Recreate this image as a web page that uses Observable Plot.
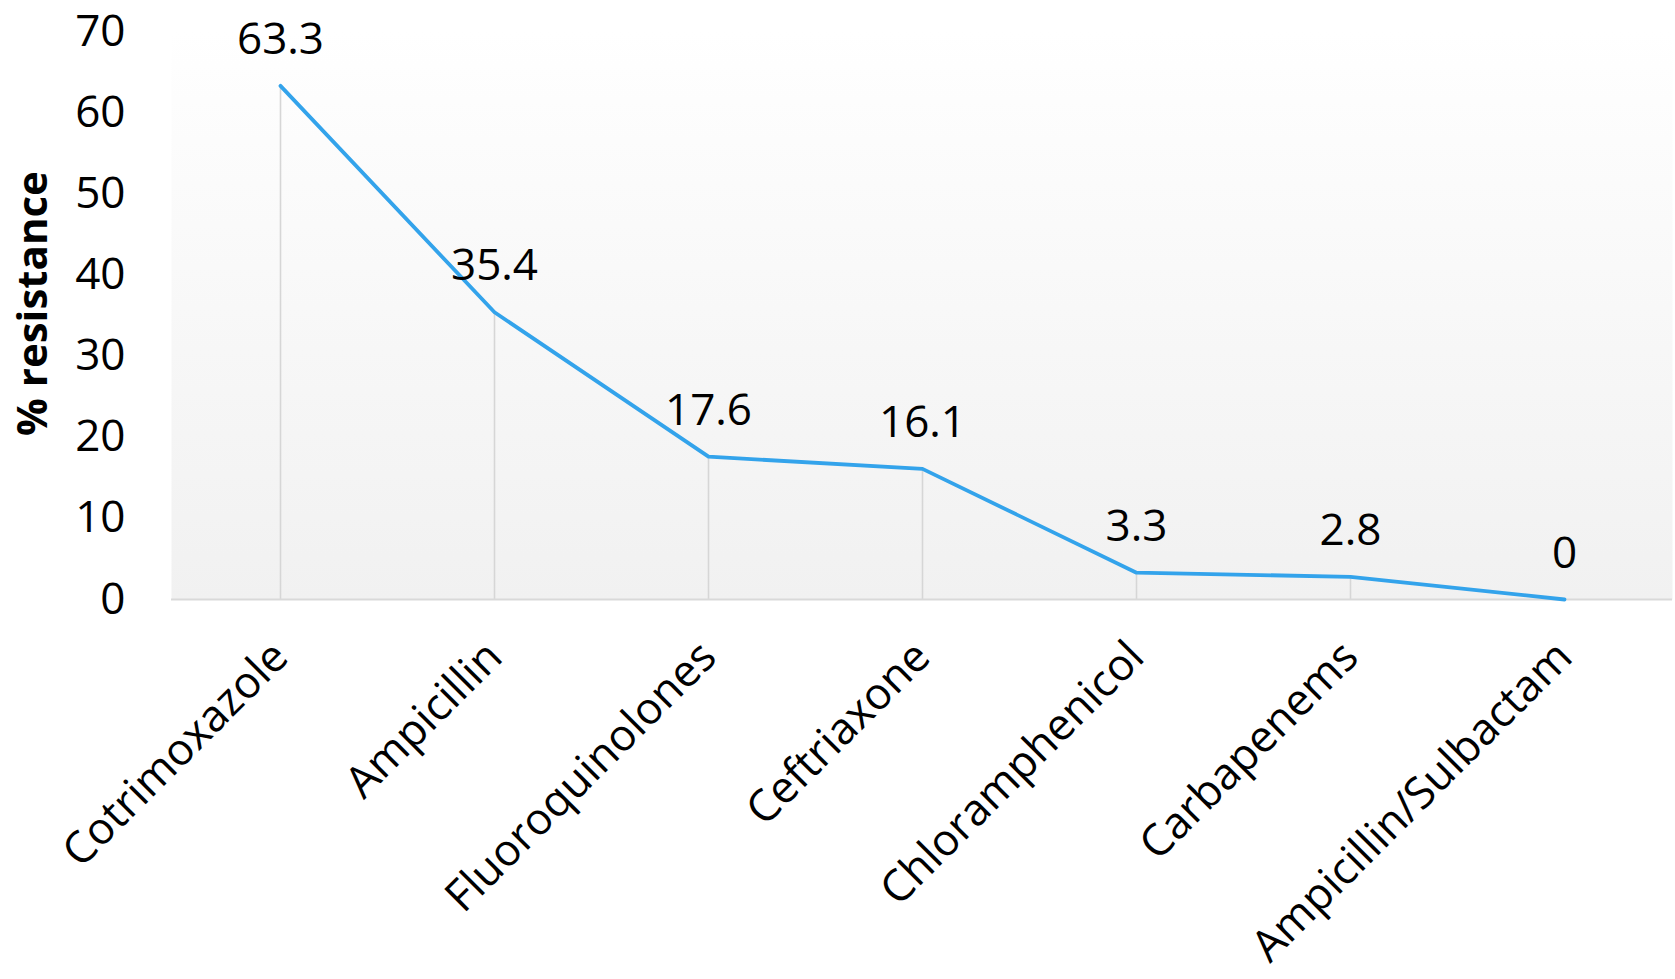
<!DOCTYPE html>
<html>
<head>
<meta charset="utf-8">
<script src="https://cdn.jsdelivr.net/npm/d3@7"></script>
<script src="https://cdn.jsdelivr.net/npm/@observablehq/plot@0.6"></script>
<style>
  html, body { margin: 0; padding: 0; background: #ffffff; }
  #chart svg { display: block; }
</style>
</head>
<body>
<div id="chart"></div>
<script>
const antibiotics = ["Cotrimoxazole", "Ampicillin", "Fluoroquinolones", "Ceftriaxone", "Chloramphenicol", "Carbapenems", "Ampicillin/Sulbactam"];
const resistance = [63.3, 35.4, 17.6, 16.1, 3.3, 2.8, 0];
const valueLabels = ["63.3", "35.4", "17.6", "16.1", "3.3", "2.8", "0"];
const yTicks = [0, 10, 20, 30, 40, 50, 60, 70];
const yTitle = "% resistance";

const data = antibiotics.map((name, i) => ({name, value: resistance[i], label: valueLabels[i]}));

const font = "'Open Sans', 'Lato', sans-serif";

const chart = Plot.plot({
  width: 1675,
  height: 979,
  marginLeft: 171,
  marginRight: 3,
  marginTop: 31,
  marginBottom: 380,
  style: {fontFamily: font, fontSize: "44px", color: "#000", background: "transparent", overflow: "visible"},
  x: {type: "point", domain: antibiotics, padding: 0.5},
  y: {domain: [0, 70]},
  marks: [
    Plot.frame({fill: "#f2f2f2", stroke: "none", className: "bgframe"}),
    Plot.ruleX(data, {x: "name", y1: 0, y2: "value", stroke: "#d6d6d6", strokeWidth: 1.6}),
    Plot.ruleY([0], {stroke: "#d9d9d9", strokeWidth: 2}),
    Plot.line(data, {x: "name", y: "value", stroke: "#33a3eb", strokeWidth: 3.8, strokeLinecap: "round", strokeLinejoin: "round"}),
    Plot.text(data, {x: "name", y: "value", text: "label", dy: -46, fontSize: 44, fill: "#000"}),
    Plot.axisY({ticks: yTicks, tickSize: 0, tickPadding: 46, label: null, fontSize: 44}),
    Plot.axisX({tickRotate: -45, tickSize: 0, tickPadding: 50, label: null, fontSize: 44}),
    Plot.text([yTitle], {frameAnchor: "left", text: d => d, rotate: -90, textAnchor: "middle", dx: -138, dy: -12, fontSize: 42, fontWeight: "bold", fill: "#000"})
  ]
});

// vertical gradient background for the plot area
const ns = "http://www.w3.org/2000/svg";
const defs = document.createElementNS(ns, "defs");
const grad = document.createElementNS(ns, "linearGradient");
grad.setAttribute("id", "bggrad");
grad.setAttribute("x1", "0"); grad.setAttribute("y1", "0");
grad.setAttribute("x2", "0"); grad.setAttribute("y2", "1");
[["0", "#ffffff"], ["0.12", "#fdfdfd"], ["1", "#f1f1f1"]].forEach(([o, c]) => {
  const s = document.createElementNS(ns, "stop");
  s.setAttribute("offset", o); s.setAttribute("stop-color", c);
  grad.appendChild(s);
});
defs.appendChild(grad);
chart.insertBefore(defs, chart.firstChild);
chart.querySelectorAll(".bgframe rect, rect.bgframe").forEach(r => r.setAttribute("fill", "url(#bggrad)"));
const fr = chart.querySelector("[aria-label=frame]");
if (fr) { (fr.tagName === "rect" ? [fr] : fr.querySelectorAll("rect")).forEach(r => r.setAttribute("fill", "url(#bggrad)")); }

document.getElementById("chart").appendChild(chart);
</script>
</body>
</html>
